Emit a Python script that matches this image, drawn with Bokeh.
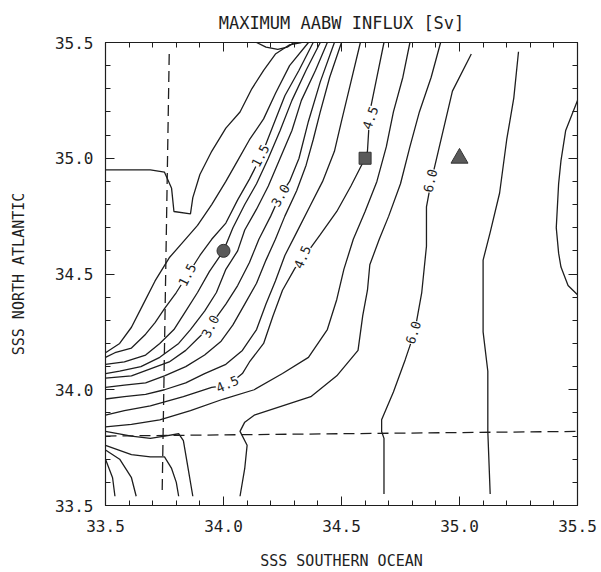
from bokeh.plotting import figure
from bokeh.models import (LinearAxis, SingleIntervalTicker, PrintfTickFormatter,
                          CustomJSTickFormatter, ColumnDataSource, LabelSet, Range1d)
from bokeh.core.properties import value
from bokeh.embed import file_html
from bokeh.resources import INLINE

FONT = "DejaVu Sans Mono"
INK = "#1e1e1e"

# ---------------- contour lines (traced, data units) ----------------
bump_x = [34.14, 34.18, 34.23, 34.27, 34.30]
bump_y = [35.50, 35.48, 35.47, 35.48, 35.50]

plateau_x = [33.50, 33.69, 33.75, 33.78, 33.79, 33.86, 33.87, 33.90, 33.95, 34.01, 34.07, 34.12, 34.17, 34.22, 34.28, 34.33]
plateau_y = [34.95, 34.95, 34.94, 34.87, 34.77, 34.76, 34.83, 34.93, 35.03, 35.13, 35.20, 35.30, 35.38, 35.45, 35.49, 35.50]

c10_x = [34.36, 34.28, 34.22, 34.17, 34.11, 34.06, 34.01, 33.95, 33.89, 33.83, 33.77, 33.71, 33.66, 33.61, 33.56, 33.50]
c10_y = [35.50, 35.40, 35.28, 35.17, 35.08, 34.99, 34.90, 34.80, 34.71, 34.64, 34.57, 34.47, 34.37, 34.27, 34.20, 34.16]

c15_x = [34.38, 34.32, 34.26, 34.21, 34.16, 34.11, 34.06, 34.01, 33.95, 33.90, 33.85, 33.80, 33.75, 33.71, 33.67, 33.61, 33.54, 33.50]
c15_y = [35.50, 35.38, 35.27, 35.14, 35.01, 34.91, 34.82, 34.72, 34.65, 34.58, 34.50, 34.42, 34.35, 34.29, 34.24, 34.18, 34.16, 34.14]

c20_x = [34.41, 34.35, 34.29, 34.24, 34.19, 34.14, 34.09, 34.04, 34.00, 33.94, 33.89, 33.84, 33.79, 33.73, 33.67, 33.58, 33.50]
c20_y = [35.50, 35.38, 35.25, 35.12, 35.00, 34.89, 34.80, 34.70, 34.60, 34.51, 34.42, 34.34, 34.26, 34.20, 34.15, 34.12, 34.11]

c25_x = [34.44, 34.39, 34.33, 34.29, 34.24, 34.19, 34.14, 34.09, 34.06, 34.01, 33.97, 33.92, 33.86, 33.81, 33.73, 33.65, 33.56, 33.50]
c25_y = [35.50, 35.38, 35.25, 35.12, 35.00, 34.88, 34.78, 34.69, 34.60, 34.52, 34.42, 34.34, 34.26, 34.20, 34.14, 34.10, 34.08, 34.07]

c30_x = [34.47, 34.41, 34.36, 34.32, 34.28, 34.24, 34.20, 34.15, 34.11, 34.06, 34.01, 33.94, 33.89, 33.84, 33.77, 33.69, 33.61, 33.50]
c30_y = [35.50, 35.33, 35.16, 35.00, 34.90, 34.84, 34.75, 34.65, 34.55, 34.45, 34.37, 34.27, 34.22, 34.17, 34.12, 34.09, 34.06, 34.05]

c35_x = [34.50, 34.45, 34.41, 34.38, 34.35, 34.31, 34.26, 34.22, 34.18, 34.14, 34.09, 34.04, 33.99, 33.92, 33.84, 33.75, 33.67, 33.58, 33.50]
c35_y = [35.50, 35.35, 35.20, 35.08, 34.97, 34.86, 34.75, 34.65, 34.56, 34.46, 34.37, 34.28, 34.21, 34.15, 34.10, 34.06, 34.03, 34.02, 34.01]

c40_x = [34.58, 34.54, 34.50, 34.47, 34.42, 34.37, 34.31, 34.26, 34.22, 34.18, 34.14, 34.08, 34.01, 33.92, 33.84, 33.75, 33.67, 33.58, 33.50]
c40_y = [35.50, 35.33, 35.16, 35.03, 34.90, 34.80, 34.68, 34.58, 34.47, 34.37, 34.26, 34.17, 34.11, 34.07, 34.03, 34.00, 33.98, 33.97, 33.96]

c45_x = [34.68, 34.65, 34.62, 34.61, 34.60, 34.54, 34.48, 34.41, 34.36, 34.33, 34.30, 34.25, 34.21, 34.17, 34.11, 34.08, 34.02, 33.95, 33.83, 33.69, 33.58, 33.50]
c45_y = [35.50, 35.35, 35.20, 35.03, 35.00, 34.88, 34.77, 34.67, 34.60, 34.57, 34.52, 34.43, 34.32, 34.20, 34.12, 34.07, 34.02, 34.01, 33.97, 33.93, 33.91, 33.89]

c50_x = [34.79, 34.76, 34.72, 34.69, 34.65, 34.60, 34.55, 34.51, 34.48, 34.44, 34.36, 34.25, 34.13, 34.00, 33.86, 33.73, 33.61, 33.50]
c50_y = [35.50, 35.35, 35.20, 35.05, 34.90, 34.77, 34.65, 34.52, 34.39, 34.26, 34.14, 34.07, 34.00, 33.96, 33.91, 33.87, 33.85, 33.84]

c55_x = [34.92, 34.88, 34.83, 34.79, 34.75, 34.70, 34.66, 34.62, 34.61, 34.59, 34.57, 34.48, 34.37, 34.25, 34.13, 34.09, 34.07, 34.10, 34.09, 34.07]
c55_y = [35.50, 35.35, 35.20, 35.05, 34.89, 34.75, 34.65, 34.54, 34.43, 34.32, 34.17, 34.06, 33.97, 33.93, 33.89, 33.86, 33.82, 33.76, 33.66, 33.54]

tongue_a_x = [33.50, 33.61, 33.69, 33.75, 33.81, 33.83, 33.85, 33.87]
tongue_a_y = [33.82, 33.80, 33.79, 33.80, 33.81, 33.78, 33.66, 33.54]

tongue_b_x = [33.50, 33.61, 33.69, 33.75, 33.78, 33.80, 33.81]
tongue_b_y = [33.76, 33.72, 33.71, 33.71, 33.66, 33.60, 33.54]

corner1_x = [33.50, 33.53, 33.54]
corner1_y = [33.70, 33.62, 33.54]

corner2_x = [33.50, 33.56, 33.61, 33.63]
corner2_y = [33.74, 33.70, 33.62, 33.54]

c60_x = [35.05, 34.97, 34.91, 34.88, 34.86, 34.86, 34.84, 34.81, 34.77, 34.72, 34.67, 34.67, 34.68, 34.68]
c60_y = [35.45, 35.29, 35.03, 34.90, 34.79, 34.62, 34.42, 34.25, 34.13, 33.99, 33.87, 33.82, 33.79, 33.55]

c65_x = [35.25, 35.23, 35.20, 35.17, 35.13, 35.10, 35.10, 35.10, 35.12, 35.12, 35.13]
c65_y = [35.46, 35.26, 35.08, 34.85, 34.68, 34.56, 34.47, 34.25, 34.08, 33.82, 33.55]

c70_x = [35.50, 35.45, 35.43, 35.42, 35.41, 35.42, 35.43, 35.46, 35.50]
c70_y = [35.25, 35.12, 34.99, 34.89, 34.70, 34.59, 34.53, 34.45, 34.41]

# contour labels
label_text = ["1.5", "1.5", "3.0", "3.0", "4.5", "4.5", "4.5", "6.0", "6.0"]
label_x = [34.157, 33.847, 34.242, 33.945, 34.623, 34.335, 34.017, 34.877, 34.805]
label_y = [35.011, 34.496, 34.839, 34.273, 35.174, 34.573, 34.024, 34.903, 34.247]
label_angle = [62, 63, 60, 63, 70, 67, 23, 77, 73]

# reference boundaries (dashed)
vdash_x = [33.77, 33.74]
vdash_y = [35.45, 33.55]
hdash_x = [33.50, 35.50]
hdash_y = [33.80, 33.82]

# experiments
circle_x, circle_y = [34.0], [34.6]
square_x, square_y = [34.6], [35.0]
triangle_x, triangle_y = [35.0], [35.0]

ticks_major = 0.5

contours_x = [bump_x, plateau_x, c10_x, c15_x, c20_x, c25_x, c30_x, c35_x, c40_x, c45_x,
              c50_x, c55_x, tongue_a_x, tongue_b_x, corner1_x, corner2_x, c60_x, c65_x, c70_x]
contours_y = [bump_y, plateau_y, c10_y, c15_y, c20_y, c25_y, c30_y, c35_y, c40_y, c45_y,
              c50_y, c55_y, tongue_a_y, tongue_b_y, corner1_y, corner2_y, c60_y, c65_y, c70_y]

p = figure(width=601, height=572, x_range=Range1d(33.5, 35.5), y_range=Range1d(33.5, 35.5),
           output_backend="svg", toolbar_location=None,
           min_border_left=105, min_border_right=24, min_border_top=41, min_border_bottom=65,
           title="MAXIMUM AABW INFLUX [Sv]")
p.grid.visible = False
p.background_fill_color = "white"
p.border_fill_color = "white"
p.outline_line_color = INK
p.outline_line_width = 1.2

p.title.align = "center"
p.title.text_font = FONT
p.title.text_font_size = "17px"
p.title.text_font_style = "normal"
p.title.text_color = INK
p.title.standoff = 20

def style_axis(ax, labels=True):
    ax.ticker = SingleIntervalTicker(interval=ticks_major, num_minor_ticks=5)
    ax.major_tick_in = 9
    ax.major_tick_out = 0
    ax.minor_tick_in = 5
    ax.minor_tick_out = 0
    ax.axis_line_color = INK
    ax.major_tick_line_color = INK
    ax.minor_tick_line_color = INK
    ax.major_tick_line_width = 1
    ax.minor_tick_line_width = 1
    if labels:
        ax.formatter = PrintfTickFormatter(format="%.1f")
        ax.major_label_text_font = FONT
        ax.major_label_text_font_size = "16px"
        ax.major_label_text_color = INK
        ax.axis_label_text_font = FONT
        ax.axis_label_text_font_size = "15px"
        ax.axis_label_text_font_style = "normal"
        ax.axis_label_text_color = INK
    else:
        ax.formatter = CustomJSTickFormatter(code="return '';")
        ax.major_label_text_font_size = "1px"
        ax.major_label_standoff = 0

style_axis(p.xaxis[0])
style_axis(p.yaxis[0])
p.xaxis[0].axis_label = "SSS SOUTHERN OCEAN"
p.yaxis[0].axis_label = "SSS NORTH ATLANTIC"
p.xaxis[0].major_label_standoff = 14
p.yaxis[0].major_label_standoff = 12
p.xaxis[0].axis_label_standoff = 17
p.yaxis[0].axis_label_standoff = 24

top_ax = LinearAxis()
right_ax = LinearAxis()
style_axis(top_ax, labels=False)
style_axis(right_ax, labels=False)
p.add_layout(top_ax, "above")
p.add_layout(right_ax, "right")

p.multi_line(contours_x, contours_y, line_color=INK, line_width=1.3)

p.line(vdash_x, vdash_y, line_color=INK, line_width=1.3, line_dash="11 6")
p.line(hdash_x, hdash_y, line_color=INK, line_width=1.3, line_dash="11 6")

src = ColumnDataSource(dict(x=label_x, y=label_y, text=label_text, angle=label_angle))
labels = LabelSet(x="x", y="y", text="text", angle="angle", angle_units="deg", source=src,
                  text_align="center", text_baseline="middle",
                  text_font=value(FONT), text_font_size=value("13px"), text_color=INK,
                  background_fill_color="white", background_fill_alpha=1.0)
p.add_layout(labels)

p.scatter(circle_x, circle_y, marker="circle", size=13, fill_color="#5a5a5a", line_color="#333333")
p.scatter(square_x, square_y, marker="square", size=12, fill_color="#5a5a5a", line_color="#333333")
p.scatter(triangle_x, triangle_y, marker="triangle", size=17, fill_color="#5a5a5a", line_color="#333333")

open("out.html", "w").write(file_html(p, INLINE))
